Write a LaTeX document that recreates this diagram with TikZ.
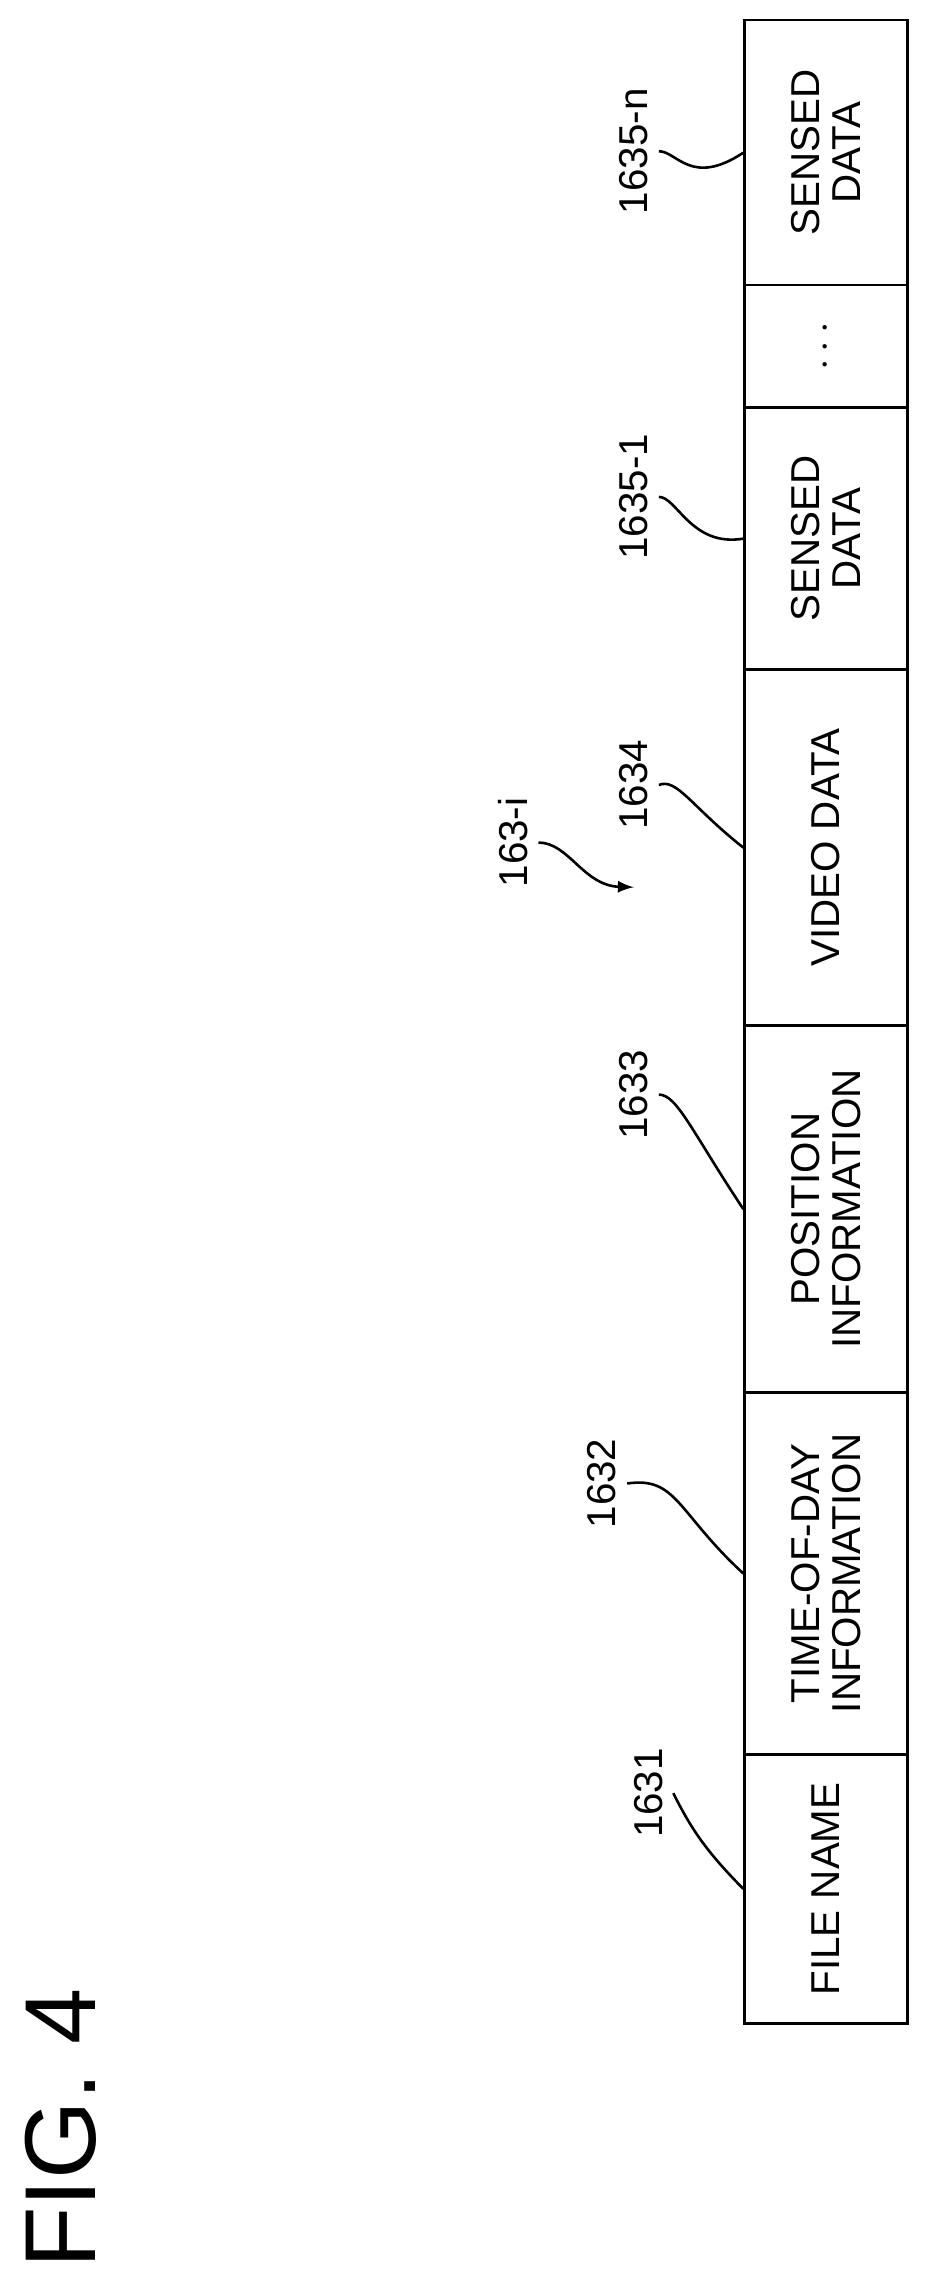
\documentclass[tikz,border=0pt]{standalone}
\usepackage{fontspec}
\setmainfont{Liberation Sans}
\usetikzlibrary{calc}
\begin{document}
\begin{tikzpicture}[x=0.5pt,y=-0.5pt,line width=0.9pt,
  cell/.style={draw,rotate=90,minimum height=113*0.5pt,inner sep=0pt,align=center,font=\fontsize{14}{14}\selectfont},
  refnum/.style={rotate=90,font=\fontsize{14}{14}\selectfont}]
\useasboundingbox (0,0) rectangle (656,1590);
% record fields, bottom to top
\node[cell,minimum width=187*0.5pt] (fname) at (573.5,1311.5) {FILE NAME};
\node[cell,minimum width=251*0.5pt] (tod) at (573.5,1092.5) {TIME-OF-DAY\\INFORMATION};
\node[cell,minimum width=255*0.5pt] (pos) at (573.5,839.5) {POSITION\\INFORMATION};
\node[cell,minimum width=247*0.5pt] (video) at (573.5,588.5) {VIDEO DATA};
\node[cell,minimum width=182*0.5pt] (sense1) at (573.5,374) {SENSED\\DATA};
\node[cell,minimum width=85*0.5pt] (dots) at (573.5,240.5) {$\cdots$};
\node[cell,minimum width=184*0.5pt] (sensen) at (573.5,106) {SENSED\\DATA};

% reference numerals
\node[refnum] (n1631) at (450,1245) {1631};
\node[refnum] (n1632) at (418,1030) {1632};
\node[refnum] (n1633) at (440,760) {1633};
\node[refnum] (n1634) at (440,545) {1634};
\node[refnum] (n1635a) at (440,345) {1635-1};
\node[refnum] (n1635n) at (440,105) {1635-n};
\node[refnum] (nrec) at (356,585) {163-i};

% leader lines
\draw (n1631.south) .. controls (480,1270) and (490,1285) .. (fname.north);
\draw (n1632.south) .. controls (470,1025) and (470,1050) .. (tod.north);
\draw (n1633.south) .. controls (470,760) and (480,785) .. (pos.north);
\draw (n1634.south) .. controls (470,540) and (480,560) .. (video.north);
\draw (n1635a.south) .. controls (470,345) and (480,380) .. (sense1.north);
\draw (n1635n.south) .. controls (470,105) and (480,130) .. (sensen.north);
\coordinate (recend) at (440,616);
\draw[-latex] (nrec.south) .. controls (395,585) and (405,615) .. (recend);

\node[rotate=90,font=\fontsize{35}{35}\selectfont] (fig) at (42,1478) {FIG. 4};
\end{tikzpicture}
\end{document}
